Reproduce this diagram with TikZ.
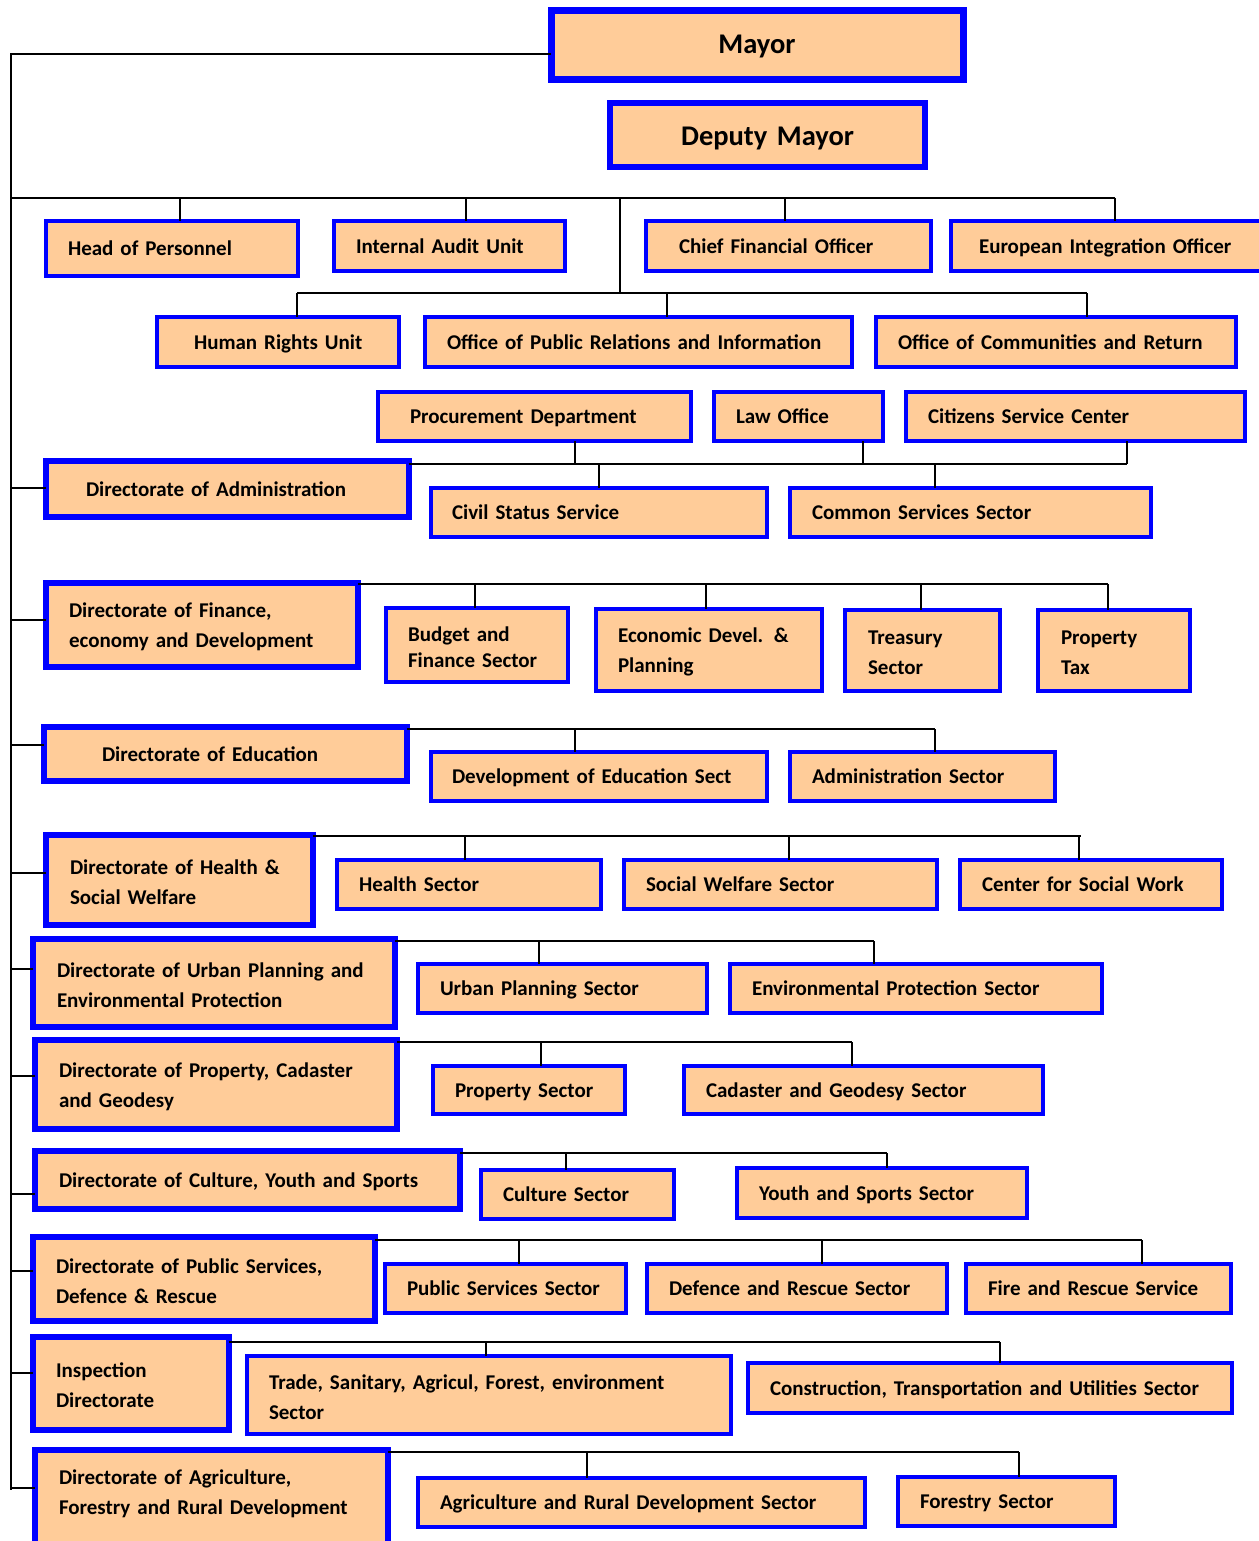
\documentclass[tikz,border=0pt]{standalone}
\usepackage{fontspec}
\setmainfont{Carlito}
\usepackage{tikz}
\definecolor{boxfill}{HTML}{FFCC99}
\definecolor{boxblue}{HTML}{0000FF}
\tikzset{
  lpad/.store in=\boxpad, lpad=22pt,
  link/.style={line width=1.7pt, draw=black},
  orgbox/.style={draw=boxblue, fill=boxfill, anchor=north west, outer sep=0pt,
    inner xsep=0pt, inner ysep=1pt},
  sectbox/.style={orgbox, line width=3.5pt, align=left,
    font=\bfseries\fontsize{21}{30}\selectfont,
    execute at begin node={\leftskip=\boxpad\vrule height 19pt depth 5pt width 0pt}},
  dirbox/.style={sectbox, line width=6pt},
  headbox/.style={orgbox, align=center, font=\bfseries\fontsize{28.5}{34}\selectfont}
}
\begin{document}
\begin{tikzpicture}[x=1pt,y=-1pt]
  \path[fill=white,use as bounding box] (0,0) rectangle (1258,1541);

  % top of the chart
  \node[headbox, line width=7pt, text width=412pt, minimum height=69pt,
        text height=26pt, text depth=9pt] (mayor) at (551,11) {Mayor};
  \node[headbox, line width=5.5pt, text width=315pt, minimum height=64pt,
        text height=29pt, text depth=7pt] (deputy) at (610,103) {Deputy Mayor};

  \node[sectbox, text width=252pt, minimum height=55pt] (hp) at (46,221) {Head of Personnel};
  \node[sectbox, text width=231pt, minimum height=50pt] (iau) at (334,221) {Internal Audit Unit};
  \node[sectbox, lpad=33pt, text width=285pt, minimum height=50pt] (cfo) at (646,221) {Chief Financial Officer};
  \node[sectbox, lpad=28pt, text width=330pt, minimum height=50pt] (eio) at (951,221) {European Integration Officer};

  \node[sectbox, lpad=37pt, text width=242pt, minimum height=50pt] (hru) at (157,317) {Human Rights Unit};
  \node[sectbox, text width=427pt, minimum height=50pt] (opr) at (425,317) {Office of Public Relations and Information};
  \node[sectbox, text width=360pt, minimum height=50pt] (ocr) at (876,317) {Office of Communities and Return};

  % administration
  \node[sectbox, lpad=32pt, text width=313pt, minimum height=49pt] (proc) at (378,392) {Procurement Department};
  \node[sectbox, text width=169pt, minimum height=49pt] (law) at (714,392) {Law Office};
  \node[sectbox, text width=339pt, minimum height=49pt] (csc) at (906,392) {Citizens Service Center};
  \node[dirbox, lpad=40pt, text width=363pt, minimum height=56pt] (dadm) at (46,461) {Directorate of Administration};
  \node[sectbox, lpad=21pt, text width=336pt, minimum height=49pt] (civ) at (431,488) {Civil Status Service};
  \node[sectbox, text width=361pt, minimum height=49pt] (com) at (790,488) {Common Services Sector};

  % finance
  \node[dirbox, lpad=23pt, text width=312pt, minimum height=84pt] (dfin) at (46,583) {Directorate of Finance,\\economy and Development};
  \node[sectbox, text width=182pt, minimum height=74pt] (bud) at (386,608) {Budget and\\[-4pt]Finance Sector};
  \node[sectbox, text width=226pt, minimum height=82pt] (eco) at (596,609) {Economic Devel. \&\\Planning};
  \node[sectbox, lpad=23pt, text width=155pt, minimum height=81pt] (tre) at (845,610) {Treasury\\Sector};
  \node[sectbox, lpad=23pt, text width=152pt, minimum height=81pt] (ptx) at (1038,610) {Property\\Tax};

  % education
  \node[dirbox, lpad=58pt, text width=363pt, minimum height=54pt] (dedu) at (44,727) {Directorate of Education};
  \node[sectbox, lpad=21pt, text width=336pt, minimum height=49pt] (dev) at (431,752) {Development of Education Sect};
  \node[sectbox, text width=265pt, minimum height=49pt] (adm) at (790,752) {Administration Sector};

  % health
  \node[dirbox, lpad=24pt, text width=267pt, minimum height=90pt] (dhea) at (46,835) {Directorate of Health \&\\Social Welfare};
  \node[sectbox, text width=264pt, minimum height=49pt] (hea) at (337,860) {Health Sector};
  \node[sectbox, text width=313pt, minimum height=49pt] (swf) at (624,860) {Social Welfare Sector};
  \node[sectbox, text width=262pt, minimum height=49pt] (csw) at (960,860) {Center for Social Work};

  % urban planning
  \node[dirbox, lpad=24pt, text width=362pt, minimum height=88pt] (durb) at (33,939) {Directorate of Urban Planning and\\Environmental Protection};
  \node[sectbox, text width=289pt, minimum height=49pt] (urb) at (418,964) {Urban Planning Sector};
  \node[sectbox, text width=372pt, minimum height=49pt] (env) at (730,964) {Environmental Protection Sector};

  % property
  \node[dirbox, lpad=24pt, text width=362pt, minimum height=89pt] (dpro) at (35,1040) {Directorate of Property, Cadaster\\and Geodesy};
  \node[sectbox, text width=192pt, minimum height=48pt] (pro) at (433,1066) {Property Sector};
  \node[sectbox, text width=359pt, minimum height=48pt] (cad) at (684,1066) {Cadaster and Geodesy Sector};

  % culture
  \node[dirbox, lpad=24pt, text width=425pt, minimum height=58pt] (dcul) at (35,1151) {Directorate of Culture, Youth and Sports};
  \node[sectbox, text width=193pt, minimum height=49pt] (cul) at (481,1170) {Culture Sector};
  \node[sectbox, text width=290pt, minimum height=50pt] (you) at (737,1168) {Youth and Sports Sector};

  % public services
  \node[dirbox, lpad=23pt, text width=342pt, minimum height=84pt] (dpub) at (33,1237) {Directorate of Public Services,\\Defence \& Rescue};
  \node[sectbox, text width=241pt, minimum height=49pt] (pub) at (385,1264) {Public Services Sector};
  \node[sectbox, text width=300pt, minimum height=49pt] (dfr) at (647,1264) {Defence and Rescue Sector};
  \node[sectbox, text width=265pt, minimum height=49pt] (fir) at (966,1264) {Fire and Rescue Service};

  % inspection
  \node[dirbox, lpad=23pt, text width=196pt, minimum height=93pt] (dins) at (33,1337) {Inspection\\Directorate};
  \node[sectbox, text width=484pt, minimum height=78pt] (tra) at (247,1356) {Trade, Sanitary, Agricul, Forest, environment\\Sector};
  \node[sectbox, text width=484pt, minimum height=50pt] (con) at (748,1363) {Construction, Transportation and Utilities Sector};

  % agriculture
  \node[dirbox, lpad=24pt, text width=353pt, minimum height=100pt, text depth=51pt] (dagr) at (35,1450) {Directorate of Agriculture,\\Forestry and Rural Development};
  \node[sectbox, text width=447pt, minimum height=49pt] (agr) at (418,1478) {Agriculture and Rural Development Sector};
  \node[sectbox, text width=217pt, minimum height=49pt] (fors) at (898,1477) {Forestry Sector};

  % trunk and ticks
  \coordinate (trunktop) at (11,54);
  \coordinate (trunkend) at (11,1490);
  \draw[link] (mayor.west |- trunktop) -- (trunktop) -- (trunkend);
  \foreach \n/\y in {dadm/488, dfin/620, dedu/745, dhea/873, durb/969, dpro/1076,
                     dcul/1194, dpub/1271, dins/1373, dagr/1488}
    \draw[link] (trunktop |- 0,\y) -- (\n.west |- 0,\y);

  % offices
  \draw[link] (trunktop |- 0,198) -- (1115,198);
  \foreach \n/\x in {hp/180, iau/466, cfo/785, eio/1115}
    \draw[link] (\x,198) -- (\n.north -| \x,0);
  \draw[link] (620,198) -- (620,293);
  \draw[link] (297,293) -- (1087,293);
  \foreach \n/\x in {hru/297, opr/667, ocr/1087}
    \draw[link] (\x,293) -- (\n.north -| \x,0);

  % directorates
  \draw[link] (dadm.north east |- 0,464) -- (1127,464);
  \foreach \n/\x in {proc/575, law/863, csc/1127}
    \draw[link] (\x,464) -- (\n.south -| \x,0);
  \foreach \n/\x in {civ/599, com/935}
    \draw[link] (\x,464) -- (\n.north -| \x,0);

  \draw[link] (dfin.north east |- 0,584) -- (1108,584);
  \foreach \n/\x in {bud/475, eco/706, tre/921, ptx/1108}
    \draw[link] (\x,584) -- (\n.north -| \x,0);

  \draw[link] (dedu.north east |- 0,729) -- (935,729);
  \foreach \n/\x in {dev/575, adm/935}
    \draw[link] (\x,729) -- (\n.north -| \x,0);

  \draw[link] (dhea.north east |- 0,836) -- (1081,836);
  \foreach \n/\x in {hea/465, swf/789, csw/1079}
    \draw[link] (\x,836) -- (\n.north -| \x,0);

  \draw[link] (durb.north east |- 0,941) -- (874,941);
  \foreach \n/\x in {urb/539, env/874}
    \draw[link] (\x,941) -- (\n.north -| \x,0);

  \draw[link] (dpro.north east |- 0,1042) -- (852,1042);
  \foreach \n/\x in {pro/541, cad/852}
    \draw[link] (\x,1042) -- (\n.north -| \x,0);

  \draw[link] (dcul.north east |- 0,1153) -- (887,1153);
  \foreach \n/\x in {cul/566, you/887}
    \draw[link] (\x,1153) -- (\n.north -| \x,0);

  \draw[link] (dpub.north east |- 0,1240) -- (1142,1240);
  \foreach \n/\x in {pub/519, dfr/822, fir/1142}
    \draw[link] (\x,1240) -- (\n.north -| \x,0);

  \draw[link] (dins.north east |- 0,1342) -- (1000,1342);
  \foreach \n/\x in {tra/486, con/1000}
    \draw[link] (\x,1342) -- (\n.north -| \x,0);

  \draw[link] (dagr.north east |- 0,1452) -- (1019,1452);
  \foreach \n/\x in {agr/587, fors/1019}
    \draw[link] (\x,1452) -- (\n.north -| \x,0);
\end{tikzpicture}
\end{document}
